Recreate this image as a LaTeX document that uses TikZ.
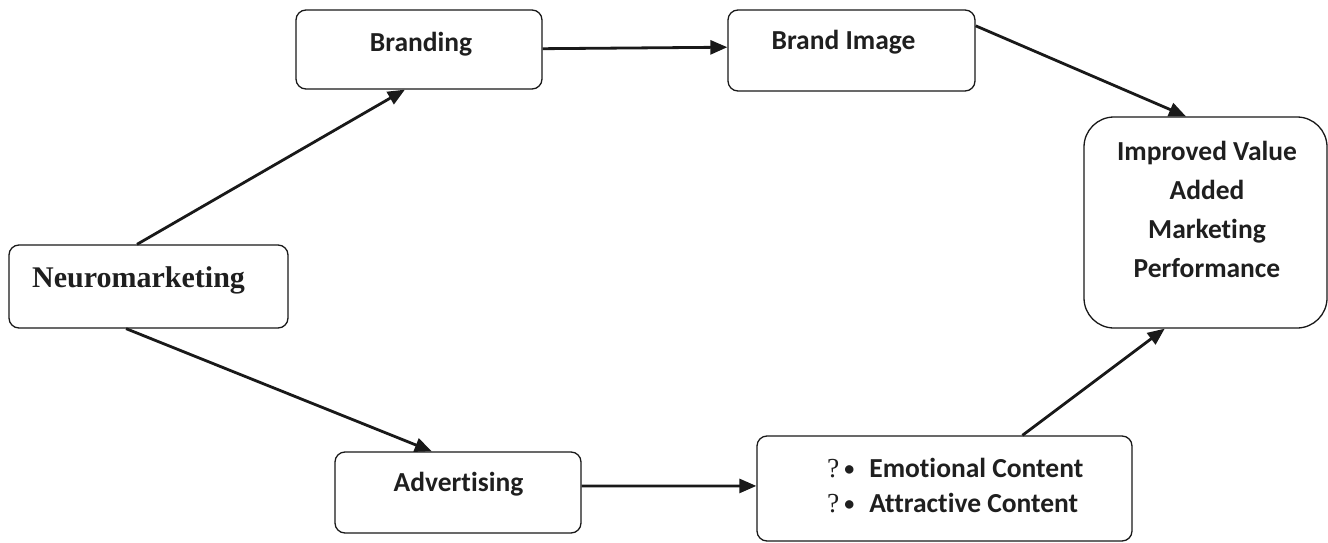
\documentclass[tikz,border=0pt]{standalone}
\usepackage{fontspec}
\setmainfont[Ligatures=NoCommon]{Carlito}
\newfontfamily\timesfont{Liberation Serif}
\usetikzlibrary{arrows.meta,calc}

\tikzset{
  box/.style={draw=black!90, line width=1.3pt, rounded corners=10pt, inner sep=0pt},
  bigbox/.style={box, rounded corners=30pt},
  lbl/.style={font=\bfseries\fontsize{27.5}{39}\selectfont, text=black!88, inner sep=0pt, align=center},
  link/.style={draw=black!90, line width=2.8pt,
    -{Triangle[length=17pt,width=14pt]}}
}
\newcommand{\qbullet}{{\timesfont\mdseries ?}\hspace{5pt}\raisebox{1.5pt}{\fontsize{20}{20}\selectfont\textbullet}\hspace{15pt}}

\begin{document}
\begin{tikzpicture}[x=1pt,y=-1pt]
  \useasboundingbox (0,0) rectangle (1328,543);

  % boxes
  \node[box, minimum width=279pt, minimum height=83pt] (neuro) at (148.5,286.5) {};
  \node[box, minimum width=246pt, minimum height=79pt] (brand) at (419,49.5) {};
  \node[box, minimum width=247pt, minimum height=81pt] (image) at (851.5,50.5) {};
  \node[bigbox, minimum width=243pt, minimum height=211pt] (perf) at (1205.5,222.5) {};
  \node[box, minimum width=246pt, minimum height=81pt] (adv) at (458,492.5) {};
  \node[box, minimum width=375pt, minimum height=105pt] (content) at (944.5,488.5) {};

  % labels
  \node[font=\timesfont\bfseries\fontsize{30}{34}\selectfont, text=black!88,
        inner sep=0pt, anchor=base west] (neurotxt) at (32,287) {Neuromarketing};
  \node[lbl, anchor=base] (brandtxt) at (421,52) {Branding};
  \node[lbl, anchor=base] (imagetxt) at (843.5,49) {Brand Image};
  \node[lbl, anchor=base] (advtxt) at (458.5,491) {Advertising};
  \node[lbl, anchor=north] (perftxt) at (1207,141)
    {Improved Value\\Added\\Marketing\\Performance};

  \node[lbl, anchor=base west] (emo) at (827,477) {\qbullet Emotional Content};
  \node[lbl, anchor=base west] (attr) at (827,512) {\qbullet Attractive Content};

  % connectors
  \draw[link] ($(neuro.north west)!0.459!(neuro.north east)$)
           -- ($(brand.south west)!0.443!(brand.south east)$);
  \draw[link] ($(brand.north east)!0.49!(brand.south east)$)
           -- ($(image.north west)!0.46!(image.south west)$);
  \draw[link] ($(image.north east)!0.2!(image.south east)$)
           -- ($(perf.north west)!0.42!(perf.north east)$);
  \draw[link] ($(neuro.south west)!0.42!(neuro.south east)$)
           -- ($(adv.north west)!0.394!(adv.north east)$);
  \draw[link] ($(adv.north east)!0.42!(adv.south east)$)
           -- ($(content.north west)!0.476!(content.south west)$);
  \draw[link] ($(content.north west)!0.707!(content.north east)$)
           -- ($(perf.south west)!0.333!(perf.south east)$);
\end{tikzpicture}
\end{document}
